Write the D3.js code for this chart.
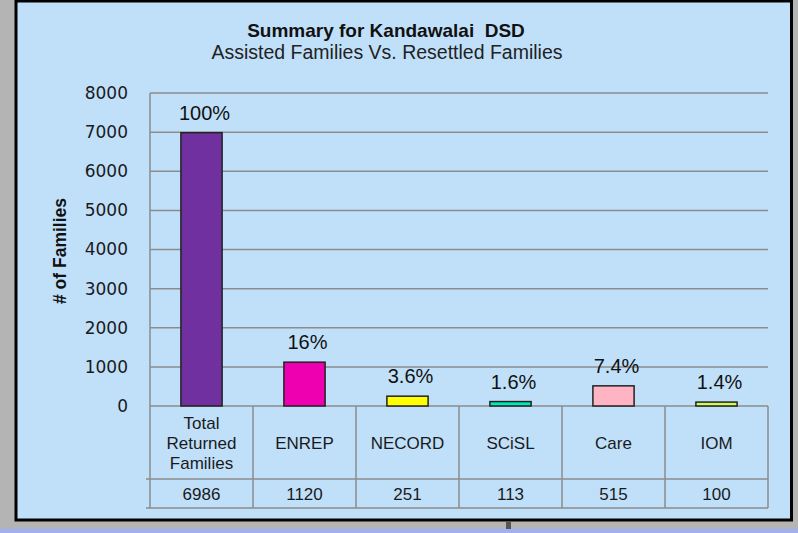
<!DOCTYPE html>
<html>
<head>
<meta charset="utf-8">
<script src="https://cdn.jsdelivr.net/npm/d3@7"></script>
<style>
  body { margin: 0; background: #b4b4b4; }
  svg { display: block; }
</style>
</head>
<body>
<div id="chart"></div>
<script>
const categories = ['Total Returned Families', 'ENREP', 'NECORD', 'SCiSL', 'Care', 'IOM'];
const categoryLines = [['Total', 'Returned', 'Families'], ['ENREP'], ['NECORD'], ['SCiSL'], ['Care'], ['IOM']];
const values = [6986, 1120, 251, 113, 515, 100];
const percents = ['100%', '16%', '3.6%', '1.6%', '7.4%', '1.4%'];
const barColors = ['#7030a0', '#ee00b0', '#ffff00', '#00e8b8', '#ffb4c4', '#ccff55'];
const yTicks = [0, 1000, 2000, 3000, 4000, 5000, 6000, 7000, 8000];

const width = 798, height = 533;
const plotLeft = 150, plotRight = 768, plotTop = 93, zero = 406;
const row1 = 479, row2 = 508;
const gridColor = '#8c8c8c';

const svg = d3.select('#chart')
    .append('svg')
    .attr('width', width)
    .attr('height', height);

// frame
svg.append('rect').attr('x', 0).attr('y', 0).attr('width', width).attr('height', height).attr('fill', '#b4b4b4');
svg.append('rect').attr('x', 0).attr('y', 529).attr('width', width).attr('height', 4).attr('fill', '#a0b0f0');
svg.append('rect').attr('x', 506).attr('y', 522).attr('width', 5).attr('height', 7).attr('fill', '#555');
svg.append('rect')
    .attr('x', 16).attr('y', 1)
    .attr('width', 775.5).attr('height', 519)
    .attr('fill', '#c0e0fa')
    .attr('stroke', '#000')
    .attr('stroke-width', 3);

const x = d3.scaleBand().domain(categories).range([plotLeft, plotRight]);
const y = d3.scaleLinear().domain([0, 8000]).range([zero, plotTop]);
const barW = x.bandwidth() * 0.4;

// gridlines + tick labels
const yAxis = svg.append('g')
    .attr('transform', 'translate(' + plotLeft + ',0)')
    .call(d3.axisLeft(y).tickValues(yTicks).tickSize(0).tickPadding(22).tickFormat(d3.format('d')));
yAxis.select('.domain').remove();
yAxis.selectAll('text')
    .attr('fill', '#1a1a1a')
    .style('font-family', '"DejaVu Sans", Verdana, sans-serif')
    .style('font-size', '17px');

svg.append('g')
    .selectAll('line')
    .data(yTicks.filter(d => d > 0))
    .enter()
    .append('line')
    .attr('x1', plotLeft).attr('x2', plotRight)
    .attr('y1', d => y(d)).attr('y2', d => y(d))
    .attr('stroke', gridColor)
    .attr('stroke-width', 1.5);

svg.append('line')
    .attr('x1', plotLeft).attr('x2', plotLeft)
    .attr('y1', plotTop).attr('y2', row2)
    .attr('stroke', gridColor).attr('stroke-width', 1.5);

// table
const table = svg.append('g').attr('class', 'table');
table.append('line').attr('x1', plotLeft).attr('x2', plotRight).attr('y1', zero).attr('y2', zero)
    .attr('stroke', gridColor).attr('stroke-width', 1.5);
[row1, row2].forEach(v => {
    table.append('line').attr('x1', plotLeft - 4).attr('x2', plotRight).attr('y1', v).attr('y2', v)
        .attr('stroke', gridColor).attr('stroke-width', 1.5);
});
table.selectAll('line.col')
    .data(categories)
    .enter()
    .append('line')
    .attr('class', 'col')
    .attr('x1', d => x(d) + x.bandwidth())
    .attr('x2', d => x(d) + x.bandwidth())
    .attr('y1', zero).attr('y2', row2)
    .attr('stroke', gridColor).attr('stroke-width', 1.5);

// bars
svg.append('g')
    .selectAll('rect')
    .data(categories)
    .enter()
    .append('rect')
    .attr('x', d => x(d) + (x.bandwidth() - barW) / 2)
    .attr('y', (d, i) => y(values[i]))
    .attr('width', barW)
    .attr('height', (d, i) => zero - y(values[i]))
    .attr('fill', (d, i) => barColors[i])
    .attr('stroke', '#222')
    .attr('stroke-width', 1.5);

// percent labels
svg.append('g')
    .selectAll('text')
    .data(categories)
    .enter()
    .append('text')
    .attr('x', d => x(d) + x.bandwidth() / 2 + 3)
    .attr('y', (d, i) => y(values[i]) - 13)
    .attr('text-anchor', 'middle')
    .style('font-family', '"Liberation Sans", Arial, sans-serif')
    .style('font-size', '20px')
    .attr('fill', '#111')
    .text((d, i) => percents[i]);

// category labels
const catText = svg.append('g')
    .selectAll('text')
    .data(categories)
    .enter()
    .append('text')
    .attr('text-anchor', 'middle')
    .style('font-family', '"Liberation Sans", Arial, sans-serif')
    .style('font-size', '17px')
    .attr('fill', '#1a1a1a');
catText.each(function (d, i) {
    const lines = categoryLines[i];
    const cx = x(d) + x.bandwidth() / 2;
    const y0 = (zero + row1) / 2 - (lines.length - 1) * 10 + 6;
    lines.forEach((t, j) => {
        d3.select(this).append('tspan')
            .attr('x', cx)
            .attr('y', y0 + j * 20)
            .text(t);
    });
});

// value row
svg.append('g')
    .selectAll('text')
    .data(categories)
    .enter()
    .append('text')
    .attr('x', d => x(d) + x.bandwidth() / 2)
    .attr('y', (row1 + row2) / 2 + 6)
    .attr('text-anchor', 'middle')
    .style('font-family', '"Liberation Sans", Arial, sans-serif')
    .style('font-size', '17px')
    .attr('fill', '#1a1a1a')
    .text((d, i) => values[i]);

// titles
svg.append('text')
    .attr('x', 386).attr('y', 37)
    .attr('text-anchor', 'middle')
    .attr('xml:space', 'preserve')
    .style('white-space', 'pre')
    .style('font-family', '"Liberation Sans", Arial, sans-serif')
    .style('font-size', '19px')
    .style('font-weight', 'bold')
    .attr('fill', '#111')
    .text('Summary for Kandawalai  DSD');
svg.append('text')
    .attr('x', 387).attr('y', 59)
    .attr('text-anchor', 'middle')
    .style('font-family', '"Liberation Sans", Arial, sans-serif')
    .style('font-size', '19.5px')
    .attr('fill', '#222')
    .text('Assisted Families Vs. Resettled Families');

svg.append('text')
    .attr('transform', 'translate(66,251) rotate(-90)')
    .attr('text-anchor', 'middle')
    .style('font-family', '"Liberation Sans", Arial, sans-serif')
    .style('font-size', '17.5px')
    .style('font-weight', 'bold')
    .attr('fill', '#111')
    .text('# of Families');
</script>
</body>
</html>
